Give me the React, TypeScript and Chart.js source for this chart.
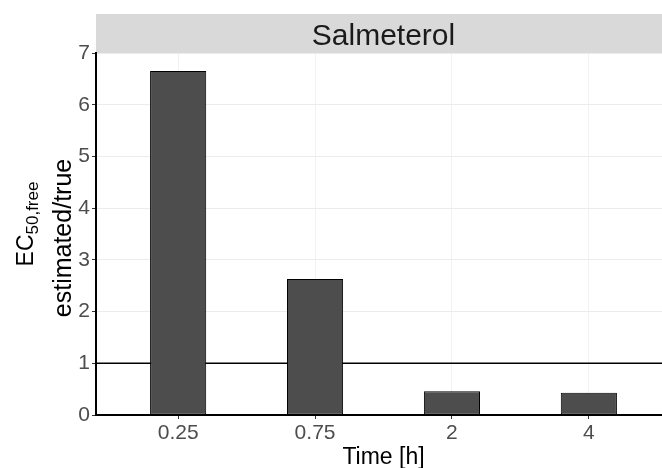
import React, { useEffect, useRef } from "react";
import { Chart, registerables } from "chart.js";

Chart.register(...registerables);

const categories = ["0.25", "0.75", "2", "4"];
const ratioValues = [6.65, 2.63, 0.46, 0.43];
const yMin = 0;
const yMax = 7;
const referenceLine = 1;
const panelTitle = "Salmeterol";
const xTitle = "Time [h]";
const yTitleMain = "EC";
const yTitleSub = "50,free";
const yTitleLine2 = "estimated/true";

const FONT = "'Liberation Sans', Arial, sans-serif";

export default function App() {
  const ref = useRef<HTMLCanvasElement | null>(null);

  useEffect(() => {
    if (!ref.current) return;
    const overlay = {
      id: "overlay",
      beforeDraw(chart: any) {
        const { ctx, chartArea } = chart;
        const xs = chart.scales.x;
        ctx.save();
        ctx.fillStyle = "#ffffff";
        ctx.fillRect(0, 0, chart.width, chart.height);
        ctx.fillStyle = "#d9d9d9";
        ctx.fillRect(chartArea.left, 14, chartArea.right - chartArea.left, chartArea.top - 14);
        ctx.fillStyle = "#1a1a1a";
        ctx.font = `30px ${FONT}`;
        ctx.textAlign = "center";
        ctx.textBaseline = "alphabetic";
        ctx.fillText(panelTitle, xs.getPixelForValue((categories.length - 1) / 2), 45);
        ctx.restore();
      },
      beforeDatasetsDraw(chart: any) {
        const { ctx, chartArea } = chart;
        const y = chart.scales.y.getPixelForValue(referenceLine);
        ctx.save();
        ctx.strokeStyle = "#000";
        ctx.lineWidth = 1.6;
        ctx.beginPath();
        ctx.moveTo(chartArea.left, y);
        ctx.lineTo(chartArea.right, y);
        ctx.stroke();
        ctx.restore();
      },
      afterDraw(chart: any) {
        const { ctx, chartArea } = chart;
        const cy = (chartArea.top + chartArea.bottom) / 2;
        ctx.save();
        ctx.fillStyle = "#000";
        ctx.textBaseline = "alphabetic";
        // line 1
        ctx.save();
        ctx.translate(33, cy - 10);
        ctx.rotate(-Math.PI / 2);
        ctx.font = `23px ${FONT}`;
        const wMain = ctx.measureText(yTitleMain).width;
        ctx.font = `17px ${FONT}`;
        const wSub = ctx.measureText(yTitleSub).width;
        const total = wMain + wSub;
        ctx.font = `23px ${FONT}`;
        ctx.textAlign = "left";
        ctx.fillText(yTitleMain, -total / 2, 0);
        ctx.font = `17px ${FONT}`;
        ctx.fillText(yTitleSub, -total / 2 + wMain, 5);
        ctx.restore();
        // line 2
        ctx.save();
        ctx.translate(71, cy + 4);
        ctx.rotate(-Math.PI / 2);
        ctx.font = `25px ${FONT}`;
        ctx.textAlign = "center";
        ctx.fillText(yTitleLine2, 0, 0);
        ctx.restore();
        ctx.restore();
      },
    };

    const chart = new Chart(ref.current, {
      type: "bar",
      data: {
        datasets: [
          {
            data: categories.map((_, i) => ({ x: i, y: ratioValues[i] })),
            backgroundColor: "#4d4d4d",
            borderColor: "#000000",
            borderWidth: 1,
            borderSkipped: false,
            barPercentage: 0.41,
            categoryPercentage: 1,
          },
        ],
      },
      options: {
        animation: false,
        responsive: false,
        layout: { padding: { top: 53, right: 9, bottom: 0, left: 0 } },
        plugins: { legend: { display: false }, tooltip: { enabled: false } },
        scales: {
          x: {
            type: "linear",
            offset: false,
            min: -0.6,
            max: categories.length - 0.4,
            afterBuildTicks: (s: any) => {
              s.ticks = categories.map((_, i) => ({ value: i }));
            },
            afterFit: (s: any) => {
              s.height = 53;
            },
            ticks: {
              autoSkip: false,
              maxRotation: 0,
              padding: 2,
              color: "#4d4d4d",
              font: { family: FONT, size: 21 },
              callback: (v: any) => categories[Math.round(Number(v))] ?? "",
            },
            grid: { offset: false, color: "#f1f1f1", tickColor: "#333", tickLength: 4, lineWidth: 1 },
            border: { display: true, color: "#000", width: 2 },
            title: {
              display: true,
              text: xTitle,
              color: "#000",
              font: { family: FONT, size: 23 },
              padding: { top: 0, bottom: -3 },
            },
          },
          y: {
            min: yMin,
            max: yMax,
            afterFit: (s: any) => {
              s.width = 96;
            },
            ticks: {
              stepSize: 0.5,
              padding: 2,
              color: "#4d4d4d",
              font: { family: FONT, size: 21 },
              callback: (v: any) => (Number(v) % 1 === 0 ? String(v) : ""),
            },
            grid: {
              color: (c: any) => (c.tick && c.tick.value % 1 === 0 ? "#ececec" : "#f6f6f6"),
              tickColor: (c: any) => (c.tick && c.tick.value % 1 === 0 ? "#333" : "rgba(0,0,0,0)"),
              tickLength: 4,
            },
            border: { display: true, color: "#000", width: 2 },
          },
        },
      },
      plugins: [overlay],
    } as any);
    return () => chart.destroy();
  }, []);

  return (
    <div style={{ position: "fixed", left: 0, top: 0, width: 662, height: 468, overflow: "hidden", background: "#fff" }}>
      <canvas ref={ref} width={680} height={468} style={{ display: "block", width: 680, height: 468 }} />
    </div>
  );
}
